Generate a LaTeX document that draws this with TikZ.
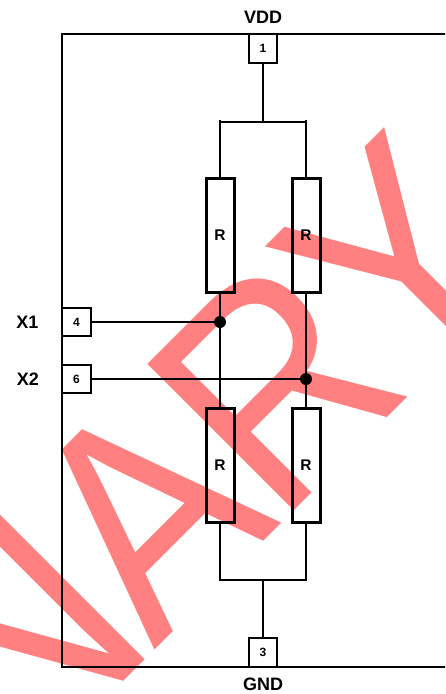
\documentclass[tikz,border=0pt]{standalone}
\usepackage{fontspec}
\setmainfont{Liberation Sans}
\definecolor{wm}{HTML}{FF8080}
\tikzset{
  wire/.style={line width=1.7pt,black},
  frameline/.style={line width=2.2pt,black},
  pinbox/.style={draw=black,line width=1.9pt,fill=white,minimum width=28.5pt,minimum height=28.5pt,inner sep=0pt,font=\bfseries\fontsize{12}{14}\selectfont},
  resbox/.style={draw=black,line width=3pt,minimum width=28pt,minimum height=114pt,inner sep=0pt,font=\bfseries\fontsize{15.5}{17}\selectfont},
  lbl/.style={inner sep=0pt,font=\bfseries\fontsize{18}{20}\selectfont},
  dotnode/.style={circle,fill=black,draw=none,minimum size=12pt,inner sep=0pt},
  watermark/.style={inner sep=0pt,text=wm,rotate=45,anchor=base east,font=\fontsize{301}{310}\selectfont}
}
\begin{document}
\begin{tikzpicture}[x=1pt,y=-1pt]
\useasboundingbox (0,0) rectangle (445,694);
\begin{scope}
\clip (0,0) rectangle (445,694);
\node[watermark] (wmtext) at (535.5,269.5) {\scalebox{0.9}[1]{PRELIMIN\kern-10pt A\kern-6pt R\kern-14pt Y}};
\coordinate (frameTL) at (62,34);
\coordinate (frameBL) at (62,667);
\coordinate (frameTR) at (450,34);
\coordinate (frameBR) at (450,667);
\draw[frameline] (frameTR) -- (frameTL) -- (frameBL) -- (frameBR);
\end{scope}
\node[pinbox] (p1) at (263,48.5) {1};
\node[pinbox] (p4) at (76.5,322) {4};
\node[pinbox] (p6) at (76.5,379) {6};
\node[pinbox] (p3) at (263,652.5) {3};
\node[resbox] (r1) at (220,235.5) {R};
\node[resbox] (r2) at (306,235.5) {R};
\node[resbox] (r3) at (220,465.5) {R};
\node[resbox] (r4) at (306,465.5) {R};
\node[dotnode] (d1) at (220,322) {};
\node[dotnode] (d2) at (306,379) {};
\coordinate (topbus) at (263,122);
\coordinate (topL) at (220,120);
\coordinate (topR) at (306,120);
\coordinate (busL) at (220,122);
\coordinate (busR) at (306,122);
\coordinate (botbus) at (263,580);
\coordinate (botL) at (220,580);
\coordinate (botR) at (306,580);
\draw[wire] (p1.south) -- (topbus);
\draw[wire] (busL) -- (busR);
\draw[wire] (r1.north) -- (topL);
\draw[wire] (r2.north) -- (topR);
\draw[wire] (r1.south) -- (r3.north);
\draw[wire] (r2.south) -- (r4.north);
\draw[wire,line join=miter] (r3.south) -- (botL) -- (botR) -- (r4.south);
\draw[wire] (botbus) -- (p3.north);
\draw[wire] (p4.east) -- (d1.center);
\draw[wire] (p6.east) -- (d2.center);
\node[lbl] (vdd) at (263,17) {VDD};
\node[lbl] (gnd) at (263,684.5) {GND};
\node[lbl] (x1) at (27.5,322) {X1};
\node[lbl] (x2) at (28,379) {X2};
\end{tikzpicture}
\end{document}
